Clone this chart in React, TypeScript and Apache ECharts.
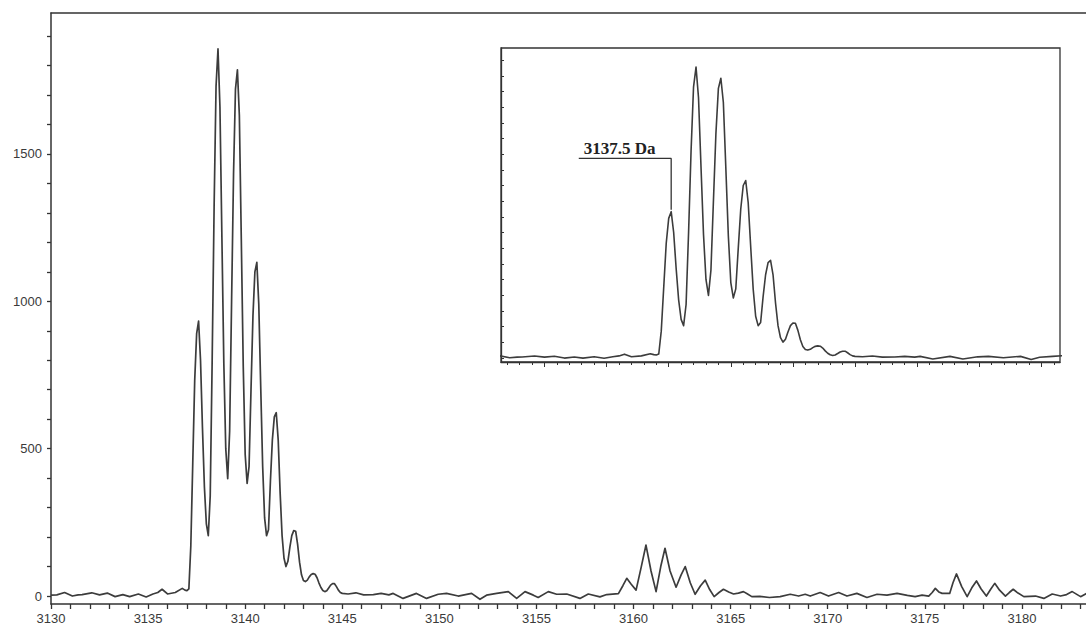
import React, { useEffect, useRef } from "react";
import * as echarts from "echarts";

// ---- Spectrum data (m/z in Da, intensity in counts) ----
const preMz = [3130.0, 3130.3, 3130.7, 3131.1, 3131.4, 3131.6, 3132.1, 3132.5, 3132.9, 3133.3, 3133.7, 3134.05, 3134.5, 3134.9, 3135.25, 3135.5, 3135.72, 3136.0, 3136.4, 3136.76, 3136.9];
const preInt = [3, 4, 12, 0, 4, 5, 11, 4, 10, -2, 5, -2, 7, -3, 7, 12, 23, 7, 12, 26, 20];

const mainMz = [
  3137.0, 3137.1, 3137.2, 3137.3, 3137.4, 3137.5, 3137.6, 3137.7, 3137.8, 3137.9,
  3138.0, 3138.1, 3138.2, 3138.3, 3138.4, 3138.5, 3138.6, 3138.7, 3138.8, 3138.9,
  3139.0, 3139.1, 3139.2, 3139.3, 3139.4, 3139.5, 3139.6, 3139.7, 3139.8, 3139.9,
  3140.0, 3140.1, 3140.2, 3140.3, 3140.4, 3140.5, 3140.6, 3140.7, 3140.8, 3140.9,
  3141.0, 3141.1, 3141.2, 3141.3, 3141.4, 3141.5, 3141.6, 3141.7, 3141.8, 3141.9,
  3142.0, 3142.1, 3142.2, 3142.3, 3142.4, 3142.5, 3142.6, 3142.7, 3142.8, 3142.9,
  3143.0, 3143.1, 3143.2, 3143.3, 3143.4, 3143.5, 3143.6, 3143.7, 3143.8, 3143.9,
  3144.0, 3144.1, 3144.2, 3144.3, 3144.4, 3144.5, 3144.6, 3144.7, 3144.8, 3144.9,
  3145.0,
];
const mainInt = [
  18, 24, 170, 450, 730, 890, 933, 800, 570, 370,
  245, 205, 340, 800, 1320, 1730, 1856, 1660, 1220, 790,
  500, 398, 560, 1000, 1430, 1720, 1785, 1630, 1210, 780,
  480, 382, 440, 700, 950, 1100, 1132, 990, 710, 440,
  265, 205, 225, 390, 530, 608, 622, 530, 350, 205,
  128, 100, 118, 165, 205, 222, 220, 175, 115, 72,
  53, 49, 54, 65, 73, 76, 74, 62, 44, 29,
  19, 15, 18, 27, 37, 42, 42, 32, 20, 12,
  9,
];

const midMz = [3145.3, 3145.7, 3146.1, 3146.6, 3147.0, 3147.4, 3147.62, 3148.13, 3148.82, 3149.34, 3149.94, 3150.37, 3150.97, 3151.66, 3152.09, 3152.43, 3152.95, 3153.55, 3153.98, 3154.41, 3154.84, 3155.09, 3155.61, 3156.04, 3156.56, 3157.24, 3157.67, 3158.27, 3158.62, 3159.22];
const midInt = [7, 11, 4, 5, 9, 4, 9, -8, 9, -8, 6, 9, 0, 9, -11, 3, 9, 15, -8, 15, 3, -5, 15, 6, 7, -8, 7, -3, 5, 8];

const cluster2Mz = [3159.45, 3159.65, 3159.88, 3160.13, 3160.4, 3160.64, 3160.9, 3161.16, 3161.4, 3161.62, 3161.88, 3162.19, 3162.45, 3162.66, 3162.92, 3163.17, 3163.45, 3163.69, 3163.92, 3164.15, 3164.4, 3164.63, 3164.9, 3165.15, 3165.4, 3165.66, 3165.85, 3166.09];
const cluster2Int = [35, 60, 40, 20, 100, 173, 85, 15, 100, 162, 85, 30, 72, 100, 45, 6, 35, 54, 22, -2, 12, 23, 14, 7, 10, 15, 8, -2];

const gapMz = [3166.5, 3167.0, 3167.55, 3168.07, 3168.5, 3168.84, 3169.1, 3169.61, 3170.04, 3170.56, 3170.99, 3171.5, 3172.02, 3172.54, 3173.05, 3173.57, 3174.1, 3174.5, 3174.86, 3175.2];
const gapInt = [-1, -5, -2, 6, 0, 6, 0, 12, 0, 12, 0, 9, -5, 6, 3, 9, 2, -2, 3, 0];

const cluster3Mz = [3175.38, 3175.54, 3175.72, 3175.89, 3176.28, 3176.45, 3176.63, 3176.9, 3177.18, 3177.42, 3177.66, 3177.9, 3178.17, 3178.4, 3178.6, 3178.85, 3179.15, 3179.35, 3179.55, 3179.8, 3180.1, 3180.7, 3181.13, 3181.56, 3181.99, 3182.3, 3182.59, 3183.02, 3183.33, 3183.5];
const cluster3Int = [12, 26, 14, 9, 9, 45, 75, 32, -2, 28, 51, 24, 0, 24, 43, 20, 0, 12, 23, 10, -2, 0, -8, 7, 0, 5, 15, -2, 9, 5];

// ---- Axis tick labels ----
const xLabelValues = [3130, 3135, 3140, 3145, 3150, 3155, 3160, 3165, 3170, 3175, 3180];
const yLabelValues = [0, 500, 1000, 1500];
const insetMajorTicks = [3132.5, 3135, 3137.5, 3140, 3142.5, 3145, 3147.5, 3150, 3152.5];

// ---- Annotation ----
const annotText = "3137.5 Da";
const annotMz = [3133.88, 3137.6, 3137.6];
const annotInt = [1273, 1273, 945];

const mzAll = [...preMz, ...mainMz, ...midMz, ...cluster2Mz, ...gapMz, ...cluster3Mz];
const intAll = [...preInt, ...mainInt, ...midInt, ...cluster2Int, ...gapInt, ...cluster3Int];

export default function App() {
  const ref = useRef<HTMLDivElement>(null);

  useEffect(() => {
    if (!ref.current) return;
    const chart = echarts.init(ref.current, undefined, { renderer: "svg" });

    const data = mzAll.map((m, i) => [m, intAll[i]]);

    const xTicks: number[] = [];
    for (let v = 3130; v <= 3183; v += 1) xTicks.push(v);
    const yTicks: number[] = [];
    for (let v = 0; v <= 1900; v += 100) yTicks.push(v);
    const insetMinor: number[] = [];
    for (let v = 3131; v <= 3153; v += 0.5) insetMinor.push(v);

    const axisColor = "#333";
    const lineColor = "#3c3c3c";
    const labelFont = "'Liberation Sans', Arial, sans-serif";
    const yMin = -27;
    const yMax = 1978;

    const annotData = annotMz.map((m, i) => {
      const item: any = { value: [m, annotInt[i]] };
      if (i === 0) {
        item.label = {
          show: true,
          formatter: annotText,
          position: "top",
          align: "left",
          distance: 1,
          offset: [5, 0],
          fontFamily: "'Liberation Serif', 'Times New Roman', serif",
          fontWeight: "bold",
          fontSize: 17,
          color: "#222",
        };
      }
      return item;
    });

    chart.setOption({
      animation: false,
      backgroundColor: "#fff",
      grid: [
        { left: 51, right: 0, top: 13, bottom: 24 },
        {
          left: 501,
          right: 26,
          top: 48,
          bottom: 266,
          show: true,
          backgroundColor: "#fff",
          borderColor: axisColor,
          borderWidth: 1.3,
        },
      ],
      xAxis: [
        {
          gridIndex: 0,
          type: "value",
          min: 3130,
          max: 3183.3,
          position: "bottom",
          axisLine: { show: true, onZero: false, lineStyle: { color: axisColor, width: 1.5 } },
          axisTick: { show: true, customValues: xTicks, length: 5, lineStyle: { color: axisColor, width: 1.3 } },
          axisLabel: {
            show: true,
            customValues: xLabelValues,
            formatter: (v: number) => String(v),
            margin: 8,
            fontSize: 13,
            color: "#3a3a3a",
            fontFamily: labelFont,
          },
          splitLine: { show: false },
        },
        {
          gridIndex: 0,
          type: "value",
          min: 3130,
          max: 3183.3,
          position: "top",
          axisLine: { show: true, onZero: false, lineStyle: { color: axisColor, width: 1.5 } },
          axisTick: { show: false },
          axisLabel: { show: false },
          splitLine: { show: false },
        },
        {
          gridIndex: 1,
          type: "value",
          min: 3130.75,
          max: 3153.25,
          position: "bottom",
          axisLine: { show: true, onZero: false, lineStyle: { color: axisColor, width: 1.3 } },
          axisTick: { show: true, customValues: insetMinor, length: 3, lineStyle: { color: axisColor, width: 1 } },
          axisLabel: { show: false },
          splitLine: { show: false },
        },
        {
          gridIndex: 1,
          type: "value",
          min: 3130.75,
          max: 3153.25,
          position: "bottom",
          axisLine: { show: false, onZero: false },
          axisTick: { show: true, customValues: insetMajorTicks, length: 5, lineStyle: { color: axisColor, width: 1 } },
          axisLabel: { show: false },
          splitLine: { show: false },
        },
      ],
      yAxis: [
        {
          gridIndex: 0,
          type: "value",
          min: yMin,
          max: yMax,
          axisLine: { show: true, onZero: false, lineStyle: { color: axisColor, width: 1.5 } },
          axisTick: { show: true, customValues: yTicks, length: 4, lineStyle: { color: axisColor, width: 1.3 } },
          axisLabel: {
            show: true,
            customValues: yLabelValues,
            formatter: (v: number) => String(v),
            margin: 9,
            fontSize: 13,
            color: "#3a3a3a",
            fontFamily: labelFont,
          },
          splitLine: { show: false },
        },
        {
          gridIndex: 1,
          type: "value",
          min: yMin,
          max: yMax,
          axisLine: { show: true, onZero: false, lineStyle: { color: axisColor, width: 1.3 } },
          axisTick: { show: true, inside: true, customValues: yTicks, length: 3, lineStyle: { color: axisColor, width: 1 } },
          axisLabel: { show: false },
          splitLine: { show: false },
        },
      ],
      series: [
        {
          type: "line",
          xAxisIndex: 0,
          yAxisIndex: 0,
          data,
          showSymbol: false,
          symbol: "none",
          lineStyle: { color: lineColor, width: 1.7, join: "round" },
          silent: true,
        },
        {
          type: "line",
          xAxisIndex: 2,
          yAxisIndex: 1,
          data,
          showSymbol: false,
          symbol: "none",
          lineStyle: { color: lineColor, width: 1.6, join: "round" },
          silent: true,
          z: 5,
        },
        {
          type: "line",
          xAxisIndex: 2,
          yAxisIndex: 1,
          data: annotData,
          showSymbol: true,
          symbol: "circle",
          symbolSize: 1,
          itemStyle: { color: "rgba(0,0,0,0)" },
          lineStyle: { color: "#333", width: 1.3 },
          label: { show: false },
          silent: true,
          z: 6,
        },
      ],
    });

    return () => chart.dispose();
  }, []);

  return (
    <div
      ref={ref}
      style={{ position: "fixed", left: 0, top: 0, width: 1086, height: 628, background: "#fff" }}
    />
  );
}
